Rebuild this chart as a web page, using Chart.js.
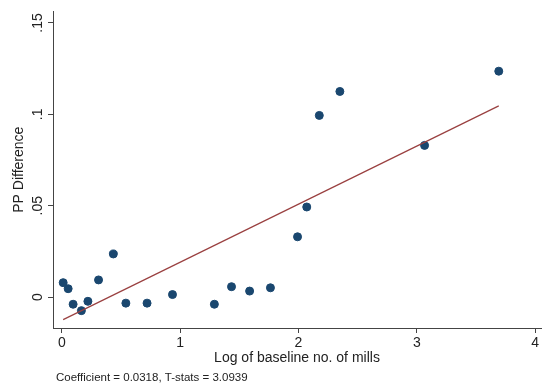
<!DOCTYPE html>
<html>
<head>
<meta charset="utf-8">
<script src="https://cdn.jsdelivr.net/npm/chart.js@4.4.0/dist/chart.umd.min.js"></script>
<style>
  html, body { margin: 0; padding: 0; background: #fff; }
  #wrap { width: 546px; height: 387px; position: relative; }
</style>
</head>
<body>
<div id="wrap"><canvas id="myChart" width="546" height="387"></canvas></div>
<script>
// Scatter data
const logMills = [0.011, 0.053, 0.095, 0.165, 0.22, 0.31, 0.435, 0.541, 0.72, 0.935,
                  1.289, 1.434, 1.587, 1.763, 1.992, 2.07, 2.176, 2.35, 3.066, 3.693];
const ppDiff   = [0.0079, 0.0046, -0.0039, -0.0074, -0.0023, 0.0094, 0.0236, -0.0033, -0.0033, 0.0014,
                  -0.0039, 0.0057, 0.0033, 0.0051, 0.033, 0.0493, 0.0994, 0.1125, 0.083, 0.1236];

// Fitted line end points
const fitX = [0.011, 3.693];
const fitY = [-0.0123, 0.1046];

// Tick values and labels
const xTicks = [0, 1, 2, 3, 4];
const yTicks = [0, 0.05, 0.1, 0.15];
const yTickLabels = ['0', '.05', '.1', '.15'];

const noteText = 'Coefficient = 0.0318, T-stats = 3.0939';

const scatterData = logMills.map((x, i) => ({ x: x, y: ppDiff[i] }));
const fitData = fitX.map((x, i) => ({ x: x, y: fitY[i] }));

const fontFamily = '"Liberation Sans", Arial, sans-serif';
const font = { family: fontFamily, size: 14 };

// Draws the rotated y tick labels (Stata style) and the note
const extrasPlugin = {
    id: 'extras',
    afterDraw(chart) {
        const c = chart.ctx;
        const y = chart.scales.y;
        c.save();
        c.font = '14px ' + fontFamily;
        c.fillStyle = '#222';
        c.textAlign = 'center';
        c.textBaseline = 'middle';
        yTicks.forEach((v, i) => {
            c.save();
            c.translate(y.right - 15, y.getPixelForValue(v));
            c.rotate(-Math.PI / 2);
            c.fillText(yTickLabels[i], 0, 0);
            c.restore();
        });
        c.font = '11.5px ' + fontFamily;
        c.textAlign = 'left';
        c.fillText(noteText, 56, 378);
        c.restore();
    }
};

const ctx = document.getElementById('myChart').getContext('2d');
const myChart = new Chart(ctx, {
    type: 'scatter',
    data: {
        datasets: [{
            data: scatterData,
            backgroundColor: '#1a476f',
            borderColor: '#1a476f',
            pointRadius: 4,
            order: 2
        }, {
            type: 'line',
            data: fitData,
            borderColor: '#9a4040',
            borderWidth: 1.2,
            pointRadius: 0,
            fill: false,
            order: 1
        }]
    },
    options: {
        responsive: false,
        animation: false,
        layout: { padding: 0 },
        plugins: {
            legend: { display: false },
            tooltip: { enabled: false }
        },
        scales: {
            x: {
                type: 'linear',
                min: -0.075,
                max: 4.05,
                afterBuildTicks: s => { s.ticks = xTicks.map(v => ({ value: v })); },
                afterFit: s => { s.height = 59; },
                border: { color: '#444', width: 1 },
                grid: { drawOnChartArea: false, tickLength: 5, color: '#444' },
                ticks: {
                    font: font, color: '#222', padding: 2, maxRotation: 0,
                    callback: v => String(v)
                },
                title: {
                    display: true,
                    text: 'Log of baseline no. of mills',
                    font: font, color: '#222',
                    padding: { top: 0, bottom: 20 }
                }
            },
            y: {
                type: 'linear',
                min: -0.0169,
                max: 0.1563,
                afterBuildTicks: s => { s.ticks = yTicks.map(v => ({ value: v })); },
                afterFit: s => { s.width = 53; },
                border: { color: '#444', width: 1 },
                grid: { drawOnChartArea: false, tickLength: 5, color: '#444' },
                ticks: {
                    font: font, color: 'rgba(0,0,0,0)', padding: 3,
                    callback: v => yTickLabels[yTicks.indexOf(v)]
                },
                title: {
                    display: true,
                    text: 'PP Difference',
                    font: font, color: '#222',
                    padding: { top: 11, bottom: 0 }
                }
            }
        }
    },
    plugins: [extrasPlugin]
});
</script>
</body>
</html>
